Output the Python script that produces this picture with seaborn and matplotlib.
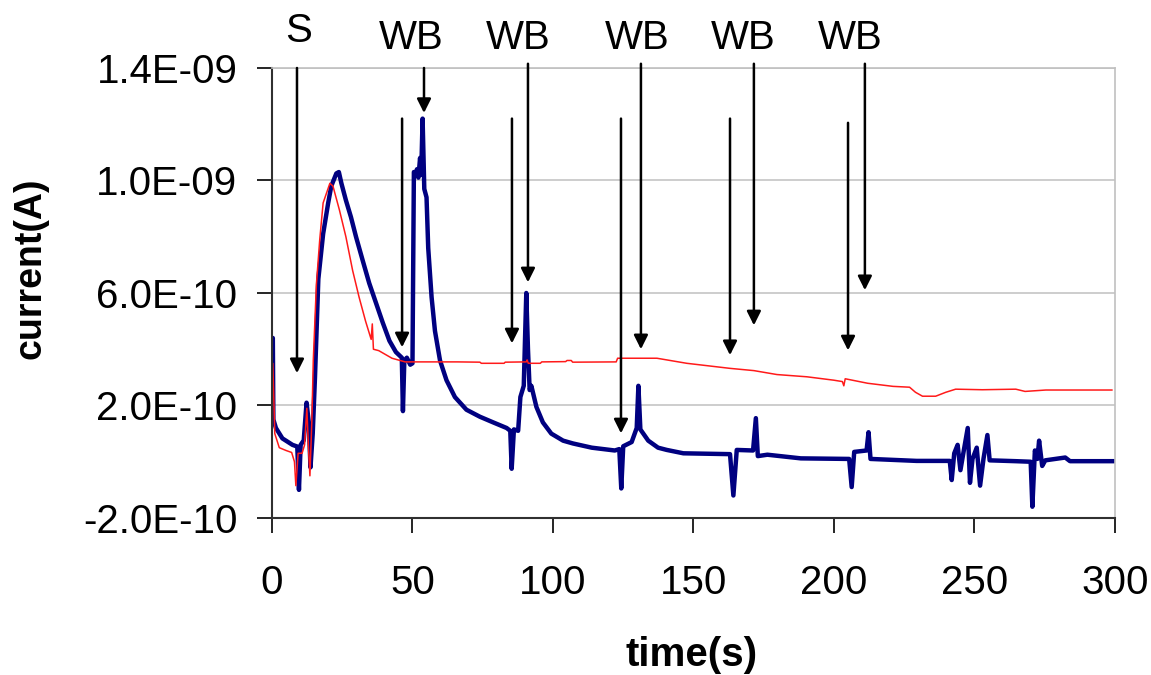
import matplotlib
matplotlib.use("Agg")
import matplotlib.pyplot as plt
import seaborn as sns
import numpy as np
import pandas as pd
from matplotlib.ticker import FuncFormatter

# current values are in units of 1e-10 A
blue_t = [0.3, 0.5, 1.4, 3.7, 7.3, 9.0, 9.6, 10.2, 11.3, 12.3, 13.1, 13.7, 14.5, 15.3, 16.5,
          18.2, 20.0, 21.1, 22.9, 23.8, 24.7, 26.3, 28.1, 29.9, 32.3, 34.6, 37.0, 39.4, 41.8,
          44.1, 46.2, 46.6, 47.1, 48.0, 49.2, 50.0, 50.5, 51.0, 51.6, 52.1, 52.7, 53.1, 53.6,
          54.2, 55.0, 55.6, 56.8, 58.0, 59.8, 62.1, 65.1, 69.2, 74.0, 78.7, 83.5, 84.8, 85.3,
          86.1, 87.6, 88.4, 89.6, 90.5, 91.1, 91.7, 92.3, 94.1, 96.4, 99.4, 103.6, 107.1, 113.8,
          122.0, 123.6, 124.3, 125.0, 128.0, 129.8, 130.4, 131.1, 133.9, 137.4, 140.5, 146.4,
          163.0, 164.2, 165.4, 171.2, 172.2, 172.9, 176.3, 188.2, 205.4, 206.3, 207.2, 211.6,
          212.3, 213.0, 229.4, 241.2, 241.9, 242.8, 244.0, 245.0, 246.2, 247.6, 248.4, 249.3,
          250.8, 252.0, 253.2, 254.6, 255.4, 264.7, 270.0, 270.6, 271.5, 272.4, 273.0, 274.1,
          275.2, 282.3, 284.0, 300.0]
blue_i = [4.4, 1.5, 1.2, 0.83, 0.6, 0.54, -1.0, 0.6, 0.76, 2.1, 1.4, -0.2, 1.0, 3.0, 6.5,
          8.1, 9.2, 9.8, 10.25, 10.3, 9.9, 9.3, 8.7, 8.0, 7.15, 6.35, 5.65, 4.95, 4.3,
          3.9, 3.7, 1.8, 3.6, 3.7, 3.45, 3.5, 10.3, 10.2, 10.4, 10.1, 10.8, 10.2, 12.2,
          9.7, 9.4, 7.6, 5.85, 4.65, 3.6, 2.9, 2.3, 1.85, 1.6, 1.4, 1.2, 1.1, -0.25,
          1.15, 1.1, 2.3, 2.7, 6.0, 4.0, 2.55, 2.7, 1.95, 1.4, 1.0, 0.75, 0.65, 0.5,
          0.4, 0.45, -0.95, 0.55, 0.7, 1.2, 2.7, 1.15, 0.75, 0.5, 0.42, 0.3,
          0.27, -1.2, 0.42, 0.4, 1.55, 0.2, 0.25, 0.12, 0.1, -0.9, 0.35, 0.4,
          1.05, 0.1, 0.03, 0.03, -0.65, 0.3, 0.6, -0.3, 0.4, 1.2, -0.75, 0.1,
          0.5, -0.85, 0.1, 0.95, 0.05, 0.02, 0.0, -1.6, 0.4, 0.1, 0.75, -0.15,
          0.05, 0.15, 0.02, 0.02]

red_t = [0.3, 1.0, 2.6, 5.0, 7.0, 8.0, 8.5, 9.3, 10.7, 11.6, 12.4, 13.0, 13.5, 14.2, 14.7,
         15.8, 17.0, 18.2, 20.6, 21.7, 24.0, 26.3, 28.7, 31.0, 33.3, 35.3, 35.7, 36.1, 38.0,
         42.7, 47.4, 66.0, 74.0, 74.5, 82.6, 83.0, 90.5, 90.8, 91.2, 95.5, 96.0, 104.5, 105.0,
         106.5, 107.0, 122.5, 123.0, 137.0, 147.6, 163.0, 171.5, 179.7, 190.4, 199.9, 203.0,
         203.5, 204.0, 212.0, 221.0, 226.9, 229.0, 231.5, 236.2, 239.8, 243.3, 252.8, 264.7,
         268.0, 275.4, 299.0]
red_i = [3.5, 1.0, 0.5, 0.4, 0.33, 0.0, -0.85, 0.3, 0.3, 0.6, 1.9, 0.5, -0.5, 1.5, 3.6,
         6.3, 7.9, 9.2, 9.9, 9.8, 8.95, 8.0, 6.8, 5.85, 5.0, 4.35, 4.9, 4.0, 3.95,
         3.68, 3.55, 3.55, 3.54, 3.5, 3.5, 3.54, 3.55, 3.62, 3.5, 3.5, 3.55, 3.56, 3.6,
         3.6, 3.54, 3.55, 3.68, 3.68, 3.5, 3.32, 3.24, 3.1, 3.02, 2.9, 2.85,
         2.7, 2.95, 2.79, 2.68, 2.65, 2.47, 2.33, 2.33, 2.47, 2.58, 2.56, 2.58,
         2.5, 2.55, 2.55]

# event arrows (x, start, tip) in 1e-10 A
arrow_x = [8.9, 46.3, 54.1, 85.4, 91.1, 124.2, 131.3, 163.0, 171.5, 205.0, 211.0]
arrow_from = [14.0, 12.2, 14.0, 12.2, 14.15, 12.2, 14.15, 12.2, 14.15, 12.05, 14.15]
arrow_to = [3.15, 4.07, 12.4, 4.21, 6.38, 1.01, 4.0, 3.79, 4.85, 3.96, 6.1]

event_labels = ["S", "WB", "WB", "WB", "WB", "WB"]
event_x = [9.6, 49.4, 87.6, 130.0, 167.7, 205.7]
event_y = [15.32, 15.07, 15.07, 15.07, 15.07, 15.07]

x_ticks = [0, 50, 100, 150, 200, 250, 300]
y_ticks = [-2e-10, 2e-10, 6e-10, 1e-09, 1.4e-09]

scale = 1e-10
blue = pd.DataFrame({"t": blue_t, "i": np.array(blue_i) * scale})
red = pd.DataFrame({"t": red_t, "i": np.array(red_i) * scale})

sns.set_style("white")
plt.rcParams["font.family"] = ["Liberation Sans", "DejaVu Sans"]
plt.rcParams["text.color"] = "black"
plt.rcParams["axes.labelcolor"] = "black"

fig = plt.figure(figsize=(11.51, 6.75), dpi=100)
ax = fig.add_axes([0.2363, 0.2326, 0.7324, 0.6667])

ax.grid(axis="y", color="#c0c0c0", linewidth=1.1)
ax.set_axisbelow(True)

sns.lineplot(data=blue, x="t", y="i", ax=ax, color="#000080", linewidth=3.2,
             estimator=None, sort=False)
sns.lineplot(data=red, x="t", y="i", ax=ax, color="#ff1a1a", linewidth=1.1,
             estimator=None, sort=False)

for x, y0, y1 in zip(arrow_x, arrow_from, arrow_to):
    ax.annotate("", xy=(x, y1 * scale), xytext=(x, y0 * scale),
                arrowprops=dict(arrowstyle="-|>,head_length=0.6,head_width=0.3",
                                color="black", lw=1.8, mutation_scale=14,
                                shrinkA=0, shrinkB=0),
                annotation_clip=False)

for txt, x, y in zip(event_labels, event_x, event_y):
    ax.text(x, y * scale, txt, ha="center", va="center", fontsize=29, color="black")

ax.set_xlim(0, 300)
ax.set_ylim(-2e-10, 1.4e-09)
ax.set_xticks(x_ticks)
ax.set_yticks(y_ticks)
ax.yaxis.set_major_formatter(FuncFormatter(lambda v, p: f"{v:.1E}"))
ax.tick_params(axis="both", labelsize=29, length=11, width=1.2, colors="black",
               labelcolor="black", direction="out", bottom=True, left=True)
ax.tick_params(axis="x", pad=22)
ax.tick_params(axis="y", pad=14)

for side in ["left", "bottom"]:
    ax.spines[side].set_color("#303030")
    ax.spines[side].set_linewidth(1.5)
for side in ["top", "right"]:
    ax.spines[side].set_color("#c0c0c0")
    ax.spines[side].set_linewidth(1.2)

ax.set_xlabel("time(s)", fontsize=29, fontweight="bold", color="black")
ax.set_ylabel("current(A)", fontsize=27, fontweight="bold", color="black")
ax.xaxis.set_label_coords(0.498, -0.304)
ax.yaxis.set_label_coords(-0.287, 0.555)
ax.xaxis.label.set_va("center")
ax.yaxis.label.set_va("center")

fig.savefig("out.png", dpi=100)
